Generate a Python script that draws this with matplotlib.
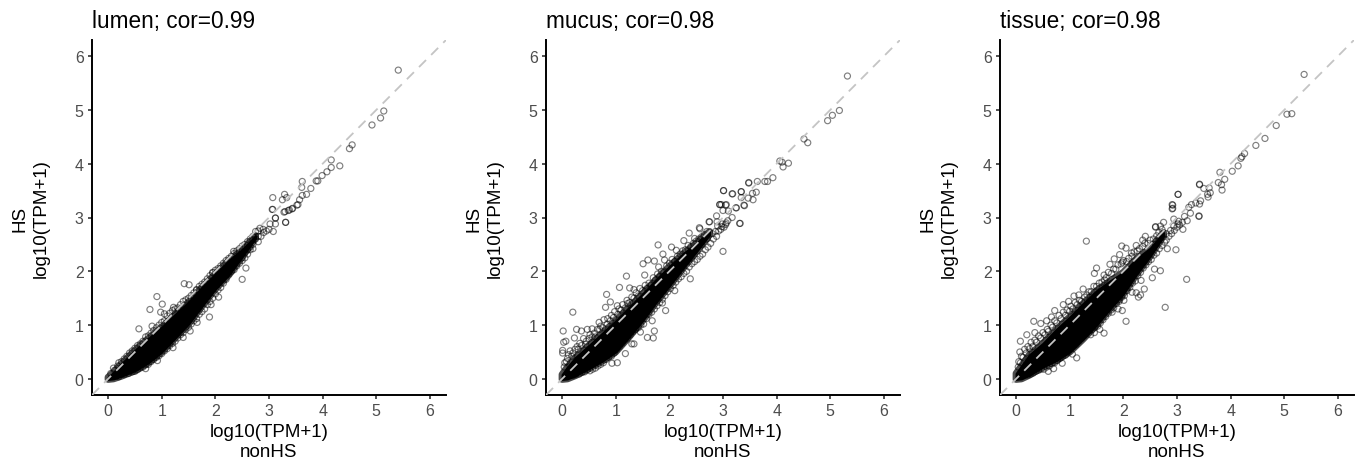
import numpy as np
from matplotlib import pyplot as plt

plt.rcParams["font.family"] = ["Liberation Sans", "DejaVu Sans"]

titles = ["lumen; cor=0.99", "mucus; cor=0.98", "tissue; cor=0.98"]
ticks = [0, 1, 2, 3, 4, 5, 6]

# The overplotted middle of each cloud cannot be read point by point,
# so it is kept as the lower and upper edge of the solid black band.
core_x = [0.0, 0.1, 0.25, 0.5, 0.75, 1.0, 1.25, 1.5, 1.75, 2.0, 2.25, 2.5, 2.75]

lumen_low = [-0.01, 0.0, 0.05, 0.15, 0.30, 0.50, 0.76, 1.02, 1.35, 1.67, 1.93, 2.27, 2.62]
lumen_high = [0.03, 0.12, 0.28, 0.53, 0.75, 0.96, 1.20, 1.43, 1.70, 1.95, 2.20, 2.40, 2.66]

mucus_low = [-0.01, 0.0, 0.06, 0.19, 0.33, 0.50, 0.78, 1.08, 1.42, 1.73, 2.05, 2.36, 2.68]
mucus_high = [0.08, 0.22, 0.40, 0.62, 0.85, 1.08, 1.33, 1.58, 1.84, 2.09, 2.32, 2.52, 2.74]

tissue_low = [-0.01, 0.0, 0.07, 0.22, 0.34, 0.50, 0.74, 1.00, 1.30, 1.58, 1.95, 2.28, 2.66]
tissue_high = [0.10, 0.24, 0.45, 0.66, 0.92, 1.15, 1.40, 1.64, 1.82, 1.98, 2.24, 2.43, 2.72]

lumen_points = [
    (5.41, 5.74), (5.14, 4.98), (5.08, 4.85), (4.92, 4.72), (4.55, 4.35), (4.50, 4.28),
    (4.16, 4.07), (4.32, 3.96), (4.16, 3.93), (4.08, 3.85), (3.99, 3.78), (3.91, 3.68),
    (3.88, 3.68), (3.78, 3.54), (3.62, 3.67), (3.61, 3.56), (3.70, 3.43), (3.62, 3.41),
    (3.57, 3.33), (3.54, 3.24), (3.44, 3.17), (3.38, 3.14), (3.30, 3.11), (3.31, 2.91),
    (3.07, 3.37), (3.07, 3.15), (3.29, 3.43), (3.25, 3.33), (3.33, 3.37), (3.12, 2.99),
    (0.575, 0.93), (0.91, 1.53), (1.01, 1.39), (0.78, 1.29), (0.98, 1.24), (1.05, 1.21),
    (1.42, 1.77), (1.51, 1.75), (0.82, 0.98), (1.65, 1.66), (1.22, 1.33), (1.89, 1.15),
    (2.06, 1.52), (1.92, 1.38), (1.53, 0.89), (1.66, 1.05), (1.40, 0.77), (1.21, 0.58),
    (0.92, 0.34), (0.70, 0.19), (2.50, 1.85), (2.57, 2.06), (2.34, 2.37), (1.95, 1.97),
    (2.75, 2.74), (2.83, 2.80), (2.89, 2.78), (3.08, 2.74), (3.02, 2.88), (3.12, 2.88),
    (3.12, 2.99), (3.06, 3.15), (3.31, 2.91), (3.28, 3.10), (3.36, 3.13), (3.43, 3.16),
    (3.52, 3.23), (0.10, 0.20), (0.20, 0.30), (0.30, 0.37), (0.40, 0.48), (0.50, 0.57),
    (0.60, 0.65), (0.70, 0.78), (0.80, 0.85), (0.90, 0.95), (1.00, 1.05), (1.10, 1.17),
    (1.20, 1.27), (1.30, 1.32), (1.40, 1.44), (1.50, 1.50), (1.60, 1.60), (1.70, 1.72),
    (1.80, 1.80), (1.90, 1.92), (2.00, 2.02), (2.10, 2.10), (2.20, 2.20), (2.30, 2.28),
    (2.40, 2.38), (2.50, 2.47), (2.60, 2.55), (2.70, 2.65), (2.80, 2.75), (0.15, 0.05),
    (0.30, 0.08), (0.45, 0.13), (0.55, 0.17), (0.65, 0.22), (0.75, 0.27), (0.85, 0.36),
    (0.95, 0.43), (1.05, 0.52), (1.15, 0.62), (1.25, 0.70), (1.35, 0.82), (1.45, 0.92),
    (1.55, 1.02), (1.65, 1.12), (1.75, 1.25), (1.85, 1.38), (1.95, 1.50), (2.05, 1.65),
    (2.15, 1.78), (2.25, 1.95), (2.35, 2.03), (2.45, 2.15), (2.55, 2.25), (2.65, 2.40),
    (2.35, 2.20), (2.45, 2.30), (2.50, 2.25), (2.60, 2.40), (2.65, 2.45), (2.70, 2.50),
    (2.55, 2.35), (2.75, 2.60), (2.85, 2.65), (2.90, 2.72), (2.95, 2.75), (3.00, 2.78),
    (0.05, 0.10), (0.12, 0.16), (0.18, 0.24), (0.25, 0.32), (0.35, 0.42), (0.45, 0.52),
    (0.55, 0.62), (0.65, 0.70), (0.75, 0.80), (0.85, 0.90), (0.95, 1.00), (0.20, 0.04),
    (0.38, 0.10), (0.50, 0.14), (0.60, 0.20), (0.70, 0.26), (0.80, 0.32), (0.90, 0.40),
    (1.00, 0.47), (1.10, 0.56), (1.20, 0.66), (1.30, 0.76), (1.40, 0.86), (1.50, 0.96),
    (1.60, 1.08), (1.70, 1.20), (1.80, 1.30), (1.90, 1.44), (2.00, 1.58), (2.10, 1.70),
    (2.20, 1.85), (2.30, 2.00), (2.40, 2.10), (2.50, 2.20), (2.60, 2.32), (2.70, 2.42),
    (2.80, 2.55), (2.40, 2.25), (2.50, 2.35), (2.60, 2.48), (2.70, 2.58), (2.80, 2.65),
    (1.05, 1.08), (1.15, 1.22), (1.25, 1.30), (1.35, 1.38), (1.45, 1.47), (1.55, 1.55),
    (1.65, 1.65), (1.75, 1.76), (1.85, 1.86), (1.95, 1.98), (2.05, 2.05), (2.15, 2.15),
    (2.25, 2.24), (2.35, 2.33), (2.45, 2.42), (2.55, 2.50), (2.65, 2.60),
]

mucus_points = [
    (5.32, 5.63), (5.17, 4.99), (5.04, 4.90), (4.95, 4.80), (4.51, 4.46), (4.58, 4.39),
    (4.22, 4.01), (4.12, 3.94), (4.06, 4.05), (4.10, 4.03), (3.93, 3.74), (3.83, 3.67),
    (3.78, 3.67), (3.64, 3.67), (3.48, 3.65), (3.62, 3.47), (3.55, 3.45), (3.34, 3.48),
    (3.17, 3.44), (3.01, 3.50), (3.34, 3.37), (3.47, 3.36), (3.56, 3.33), (3.39, 3.23),
    (3.24, 3.18), (3.06, 3.24), (2.94, 3.24), (2.97, 3.24), (3.00, 3.13), (3.10, 3.12),
    (2.88, 3.03), (2.75, 2.92), (2.56, 2.81), (3.32, 2.89), (3.17, 3.00), (3.09, 2.94),
    (2.89, 2.92), (2.98, 2.83), (3.05, 2.87), (0.20, 1.24), (0.02, 0.89), (0.27, 0.92),
    (0.03, 0.68), (0.07, 0.70), (0.01, 0.53), (0.01, 0.48), (0.36, 0.89), (0.47, 0.92),
    (0.56, 0.93), (0.23, 0.76), (0.83, 1.57), (1.07, 1.70), (1.20, 1.91), (1.26, 1.69),
    (1.34, 1.66), (1.51, 2.14), (1.60, 2.21), (1.72, 2.19), (1.54, 1.93), (1.79, 2.49),
    (1.88, 2.32), (2.04, 2.45), (1.91, 2.21), (1.80, 2.08), (2.13, 2.39), (2.27, 2.57),
    (2.37, 2.71), (2.47, 2.61), (2.57, 2.79), (2.74, 2.92), (2.94, 3.24), (3.01, 3.50),
    (3.18, 3.44), (3.05, 3.23), (3.34, 3.48), (3.48, 3.64), (3.40, 3.22), (3.25, 3.18),
    (3.31, 2.89), (3.00, 2.37), (2.39, 1.86), (2.10, 1.64), (1.93, 1.27), (1.87, 1.41),
    (1.72, 0.89), (1.70, 0.76), (1.59, 0.77), (1.34, 0.65), (1.30, 0.65), (1.18, 0.47),
    (1.03, 0.30), (0.93, 0.29), (1.46, 0.87), (1.68, 1.08), (1.03, 1.36), (0.90, 1.43),
    (0.81, 1.33), (0.69, 1.05), (1.21, 1.46), (0.05, 0.30), (0.10, 0.38), (0.15, 0.52),
    (0.20, 0.48), (0.28, 0.60), (0.33, 0.66), (0.40, 0.75), (0.45, 0.70), (0.52, 0.82),
    (0.60, 0.85), (0.66, 0.92), (0.72, 0.98), (0.78, 1.10), (0.85, 1.12), (0.92, 1.18),
    (0.98, 1.25), (1.06, 1.30), (1.13, 1.38), (1.22, 1.40), (1.30, 1.52), (1.38, 1.60),
    (1.45, 1.68), (1.55, 1.74), (1.62, 1.78), (1.70, 1.88), (1.78, 1.95), (1.85, 2.00),
    (1.95, 2.10), (2.05, 2.22), (2.15, 2.28), (2.25, 2.38), (2.35, 2.48), (2.45, 2.52),
    (2.55, 2.60), (2.65, 2.68), (0.20, 0.06), (0.32, 0.09), (0.42, 0.13), (0.52, 0.15),
    (0.62, 0.20), (0.72, 0.27), (0.82, 0.36), (0.92, 0.42), (1.02, 0.55), (1.12, 0.66),
    (1.22, 0.76), (1.32, 0.88), (1.42, 0.95), (1.52, 1.02), (1.62, 1.20), (1.72, 1.30),
    (1.82, 1.42), (1.92, 1.55), (2.02, 1.68), (2.12, 1.80), (2.22, 1.90), (2.32, 2.00),
    (2.42, 2.14), (2.52, 2.22), (2.62, 2.32), (2.72, 2.45), (2.82, 2.60), (2.88, 2.65),
    (2.92, 2.75), (2.96, 2.78), (3.02, 2.82), (3.06, 2.90), (0.04, 0.22), (0.08, 0.32),
    (0.12, 0.45), (0.18, 0.42), (0.24, 0.55), (0.30, 0.55), (0.36, 0.62), (0.44, 0.64),
    (0.50, 0.75), (0.56, 0.78), (0.62, 0.78), (0.70, 0.92), (0.76, 0.95), (0.84, 1.02),
    (0.90, 1.08), (0.96, 1.14), (1.04, 1.20), (1.10, 1.28), (1.18, 1.32), (1.26, 1.42),
    (1.34, 1.50), (1.42, 1.54), (1.50, 1.64), (1.58, 1.68), (1.66, 1.74), (1.74, 1.84),
    (1.82, 1.90), (1.90, 1.98), (2.00, 2.15), (2.10, 2.18), (2.20, 2.32), (2.30, 2.40),
    (2.40, 2.46), (2.50, 2.56), (2.60, 2.64), (2.70, 2.74), (0.25, 0.08), (0.37, 0.12),
    (0.47, 0.17), (0.57, 0.18), (0.67, 0.24), (0.77, 0.30), (0.87, 0.40), (0.97, 0.48),
    (1.07, 0.60), (1.17, 0.72), (1.27, 0.82), (1.37, 0.92), (1.47, 1.00), (1.57, 1.12),
    (1.67, 1.24), (1.77, 1.36), (1.87, 1.48), (1.97, 1.62), (2.07, 1.74), (2.17, 1.86),
    (2.27, 1.96), (2.37, 2.08), (2.47, 2.18), (2.57, 2.28), (2.67, 2.40), (2.77, 2.52),
    (2.60, 2.50), (2.70, 2.60), (2.80, 2.70), (2.86, 2.74), (2.90, 2.84), (2.98, 2.88),
]

tissue_points = [
    (5.37, 5.66), (5.14, 4.93), (5.05, 4.92), (4.85, 4.71), (4.64, 4.47), (4.47, 4.34),
    (4.26, 4.19), (4.21, 4.13), (4.19, 4.10), (4.14, 3.96), (4.03, 3.86), (3.80, 3.84),
    (3.89, 3.71), (3.77, 3.65), (3.83, 3.61), (3.84, 3.51), (3.42, 3.62), (3.50, 3.54),
    (3.60, 3.55), (3.62, 3.46), (3.57, 3.43), (3.58, 3.38), (3.44, 3.31), (3.42, 3.25),
    (3.35, 3.27), (3.27, 3.24), (3.22, 3.19), (3.02, 3.43), (2.91, 3.24), (2.91, 3.16),
    (3.25, 3.08), (3.41, 3.02), (3.19, 2.94), (3.14, 3.02), (2.94, 2.97), (3.03, 2.93),
    (3.10, 2.91), (2.75, 2.91), (2.60, 2.83), (2.69, 2.84), (1.31, 2.56), (0.08, 0.70),
    (0.07, 0.50), (0.20, 0.82), (0.33, 1.07), (0.46, 1.03), (0.35, 0.86), (0.72, 1.27),
    (0.66, 1.15), (0.57, 1.08), (1.25, 1.67), (1.08, 1.54), (1.17, 1.56), (0.98, 1.44),
    (0.88, 1.38), (1.50, 2.06), (1.46, 1.96), (1.64, 1.93), (1.75, 2.13), (1.83, 2.23),
    (1.93, 2.31), (1.97, 2.47), (2.05, 2.43), (1.98, 2.17), (2.15, 2.34), (2.24, 2.48),
    (2.36, 2.58), (2.41, 2.65), (2.60, 2.82), (2.92, 3.23), (2.92, 3.17), (3.02, 3.43),
    (3.41, 3.03), (3.42, 3.61), (3.11, 2.78), (2.82, 2.42), (2.98, 2.40), (2.69, 2.01),
    (2.58, 2.04), (2.54, 1.88), (3.18, 1.85), (2.78, 1.33), (2.33, 1.83), (2.39, 1.67),
    (2.16, 1.61), (2.24, 1.60), (2.32, 1.56), (2.28, 1.52), (2.05, 1.07), (1.98, 1.27),
    (1.90, 1.30), (1.79, 1.24), (2.01, 1.46), (1.93, 1.47), (1.64, 0.85), (1.56, 0.92),
    (1.46, 0.86), (1.39, 0.82), (1.13, 0.39), (1.05, 0.46), (0.86, 0.29), (0.70, 0.19),
    (0.60, 0.14), (0.05, 0.32), (0.10, 0.42), (0.16, 0.55), (0.22, 0.60), (0.28, 0.68),
    (0.35, 0.72), (0.42, 0.80), (0.50, 0.86), (0.58, 0.92), (0.65, 1.00), (0.72, 1.08),
    (0.80, 1.18), (0.88, 1.24), (0.95, 1.28), (1.02, 1.35), (1.10, 1.42), (1.18, 1.46),
    (1.28, 1.52), (1.36, 1.62), (1.45, 1.72), (1.55, 1.78), (1.65, 1.84), (1.72, 1.98),
    (1.82, 2.04), (1.90, 2.12), (2.00, 2.20), (2.10, 2.24), (2.20, 2.36), (2.30, 2.42),
    (2.40, 2.52), (2.50, 2.58), (2.62, 2.66), (2.72, 2.78), (0.22, 0.07), (0.32, 0.11),
    (0.42, 0.16), (0.52, 0.18), (0.62, 0.24), (0.72, 0.30), (0.82, 0.38), (0.92, 0.44),
    (1.02, 0.55), (1.12, 0.64), (1.22, 0.75), (1.32, 0.85), (1.42, 0.92), (1.52, 0.98),
    (1.62, 1.10), (1.72, 1.22), (1.82, 1.32), (1.92, 1.44), (2.02, 1.55), (2.12, 1.70),
    (2.22, 1.82), (2.32, 1.98), (2.42, 2.12), (2.52, 2.22), (2.62, 2.34), (2.72, 2.48),
    (2.80, 2.58), (2.85, 2.65), (2.90, 2.70), (2.95, 2.76), (3.00, 2.82), (3.05, 2.86),
    (0.04, 0.22), (0.08, 0.30), (0.13, 0.40), (0.19, 0.48), (0.25, 0.56), (0.31, 0.60),
    (0.38, 0.68), (0.46, 0.76), (0.54, 0.82), (0.60, 0.88), (0.68, 0.96), (0.76, 1.04),
    (0.84, 1.12), (0.92, 1.18), (1.00, 1.26), (1.06, 1.30), (1.14, 1.38), (1.22, 1.44),
    (1.32, 1.56), (1.40, 1.62), (1.50, 1.72), (1.60, 1.80), (1.68, 1.88), (1.78, 1.96),
    (1.86, 2.04), (1.96, 2.14), (2.06, 2.18), (2.16, 2.28), (2.26, 2.38), (2.36, 2.46),
    (2.46, 2.52), (2.56, 2.60), (2.66, 2.72), (0.27, 0.09), (0.37, 0.14), (0.47, 0.18),
    (0.57, 0.22), (0.67, 0.28), (0.77, 0.34), (0.87, 0.42), (0.97, 0.50), (1.07, 0.60),
    (1.17, 0.70), (1.27, 0.80), (1.37, 0.90), (1.47, 0.96), (1.57, 1.04), (1.67, 1.16),
    (1.77, 1.28), (1.87, 1.40), (1.97, 1.52), (2.07, 1.64), (2.17, 1.78), (2.27, 1.92),
    (2.37, 2.06), (2.47, 2.18), (2.57, 2.30), (2.67, 2.42), (2.77, 2.54), (2.60, 2.50),
    (2.70, 2.62), (2.80, 2.70), (2.88, 2.76), (2.94, 2.84), (3.02, 2.88),
]


def draw_panel(ax, title, low, high, points) -> None:
    points = np.asarray(points)

    # Soft halo first, where the rings overlap but do not fully saturate
    ax.fill_between(core_x, low, high, facecolor="none", edgecolor=(0, 0, 0, 0.7),
                    linewidth=5, zorder=1)
    ax.fill_between(core_x, low, high, color="black", linewidth=1.5, zorder=2)

    style = {"s": 19, "facecolors": "none", "edgecolors": (0, 0, 0, 0.5),
             "linewidths": 0.85, "zorder": 3}
    ax.scatter(points[:, 0], points[:, 1], **style)

    # y = x reference
    ax.axline((0, 0), slope=1, color="#c4c4c4", linewidth=1.3,
              linestyle=(0, (5.5, 4)), zorder=4)

    ax.set_xlim(-0.3, 6.3)
    ax.set_ylim(-0.3, 6.3)
    ax.set_xticks(ticks)
    ax.set_yticks(ticks)

    ax.spines[["top", "right"]].set_visible(False)
    ax.spines[["left", "bottom"]].set_linewidth(1.4)

    ax.tick_params(length=3, width=1.1, color="#222222", labelcolor="#4d4d4d",
                   labelsize=11.5, pad=3)

    ax.set_title(title, loc="left", fontsize=16.3, pad=9.5)
    ax.set_xlabel("log10(TPM+1)\nnonHS", fontsize=13.5, labelpad=3.5, linespacing=1.2)
    ax.set_ylabel("HS\nlog10(TPM+1)", fontsize=13.5, labelpad=18, linespacing=1.3)


fig = plt.figure(figsize=(13.6, 4.64), dpi=100)

lefts = [92, 546, 1000]
lows = [lumen_low, mucus_low, tissue_low]
highs = [lumen_high, mucus_high, tissue_high]
all_points = [lumen_points, mucus_points, tissue_points]

for left, title, low, high, points in zip(lefts, titles, lows, highs, all_points):
    ax = fig.add_axes([left / 1360, 68 / 464, 354 / 1360, 355 / 464])
    draw_panel(ax, title, low, high, points)

fig.savefig("out.png", dpi=100)
